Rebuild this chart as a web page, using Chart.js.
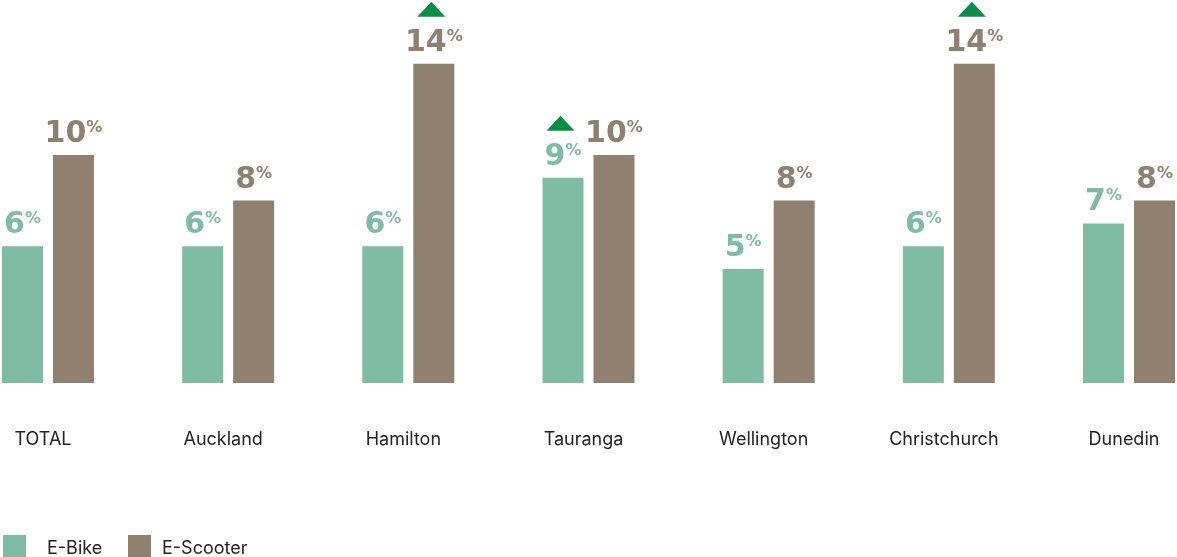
<!DOCTYPE html>
<html>
<head>
<meta charset="utf-8">
<script src="https://cdn.jsdelivr.net/npm/chart.js@4/dist/chart.umd.min.js"></script>
<style>
  html, body { margin: 0; padding: 0; background: #fff; }
  #wrap { position: relative; width: 1177px; height: 557px; overflow: hidden; }
  #legend { position: absolute; left: 0; top: 535px; font: 18px Inter, "Noto Sans", sans-serif; color: #222; }
  #legend span { position: absolute; white-space: nowrap; line-height: 22px; }
  #legend i { position: absolute; width: 23px; height: 22px; top: 0; }
</style>
</head>
<body>
<div id="wrap">
  <canvas id="chart" width="1177" height="557"></canvas>
  <div id="legend">
    <i style="left:3px;background:#80bba3"></i><span style="left:47px;top:2px">E-Bike</span>
    <i style="left:128px;background:#8f806f"></i><span style="left:162px;top:2px">E-Scooter</span>
  </div>
</div>
<script>
const regions = ["TOTAL", "Auckland", "Hamilton", "Tauranga", "Wellington", "Christchurch", "Dunedin"];
const eBike = [6, 6, 6, 9, 5, 6, 7];
const eScooter = [10, 8, 14, 10, 8, 14, 8];
// significant rise markers per region
const eBikeUp = [false, false, false, true, false, false, false];
const eScooterUp = [false, false, true, false, false, true, false];

const BIKE_COLOR = "#80bba3";
const SCOOTER_COLOR = "#8f806f";
const UP_COLOR = "#0a8d45";

// region names under each bar pair, placed from the x scale
const regionLabels = {
  id: "regionLabels",
  afterDraw(chart) {
    const ctx = chart.ctx;
    const xs = chart.scales.x;
    ctx.save();
    ctx.fillStyle = "#222";
    ctx.font = "18px Inter, 'Noto Sans', sans-serif";
    ctx.textAlign = "center";
    ctx.textBaseline = "alphabetic";
    chart.data.labels.forEach((lab, i) => {
      ctx.fillText(lab, xs.getPixelForValue(i) - 5, chart.chartArea.bottom + 62);
    });
    ctx.restore();
  },
};

const valueLabels = {
  id: "valueLabels",
  afterDatasetsDraw(chart) {
    const ctx = chart.ctx;
    chart.data.datasets.forEach((ds, i) => {
      const meta = chart.getDatasetMeta(i);
      meta.data.forEach((bar, j) => {
        const num = String(ds.data[j]);
        ctx.save();
        ctx.fillStyle = ds.backgroundColor;
        ctx.textBaseline = "alphabetic";
        ctx.textAlign = "left";
        ctx.font = "bold 30px 'DejaVu Sans'";
        const wNum = ctx.measureText(num).width;
        ctx.font = "bold 16px 'DejaVu Sans'";
        const wPct = ctx.measureText("%").width;
        const total = wNum + wPct;
        const x0 = bar.x - total / 2;
        const base = bar.y - 13;
        ctx.font = "bold 30px 'DejaVu Sans'";
        ctx.fillText(num, x0, base);
        ctx.font = "bold 16px 'DejaVu Sans'";
        ctx.fillText("%", x0 + wNum, base - 10);

        if (ds.up[j]) {
          const tb = bar.y - 47;
          const cx = bar.x - 2.5;
          ctx.fillStyle = UP_COLOR;
          ctx.beginPath();
          ctx.moveTo(cx - 14, tb);
          ctx.lineTo(cx + 14, tb);
          ctx.lineTo(cx, tb - 15);
          ctx.closePath();
          ctx.fill();
        }
        ctx.restore();
      });
    });
  },
};

new Chart(document.getElementById("chart"), {
  type: "bar",
  data: {
    labels: regions,
    datasets: [
      { label: "E-Bike", data: eBike, up: eBikeUp, backgroundColor: BIKE_COLOR },
      { label: "E-Scooter", data: eScooter, up: eScooterUp, backgroundColor: SCOOTER_COLOR },
    ],
  },
  options: {
    responsive: false,
    animation: false,
    events: [],
    layout: { padding: { left: 48, right: 48, top: 0, bottom: 174 } },
    datasets: { bar: { categoryPercentage: 0.5661, barPercentage: 0.804, clip: false } },
    plugins: { legend: { display: false }, tooltip: { enabled: false } },
    scales: {
      x: { display: false, offset: false },
      y: { display: false, min: 0, max: 16.8 },
    },
  },
  plugins: [valueLabels, regionLabels],
});
</script>
</body>
</html>
